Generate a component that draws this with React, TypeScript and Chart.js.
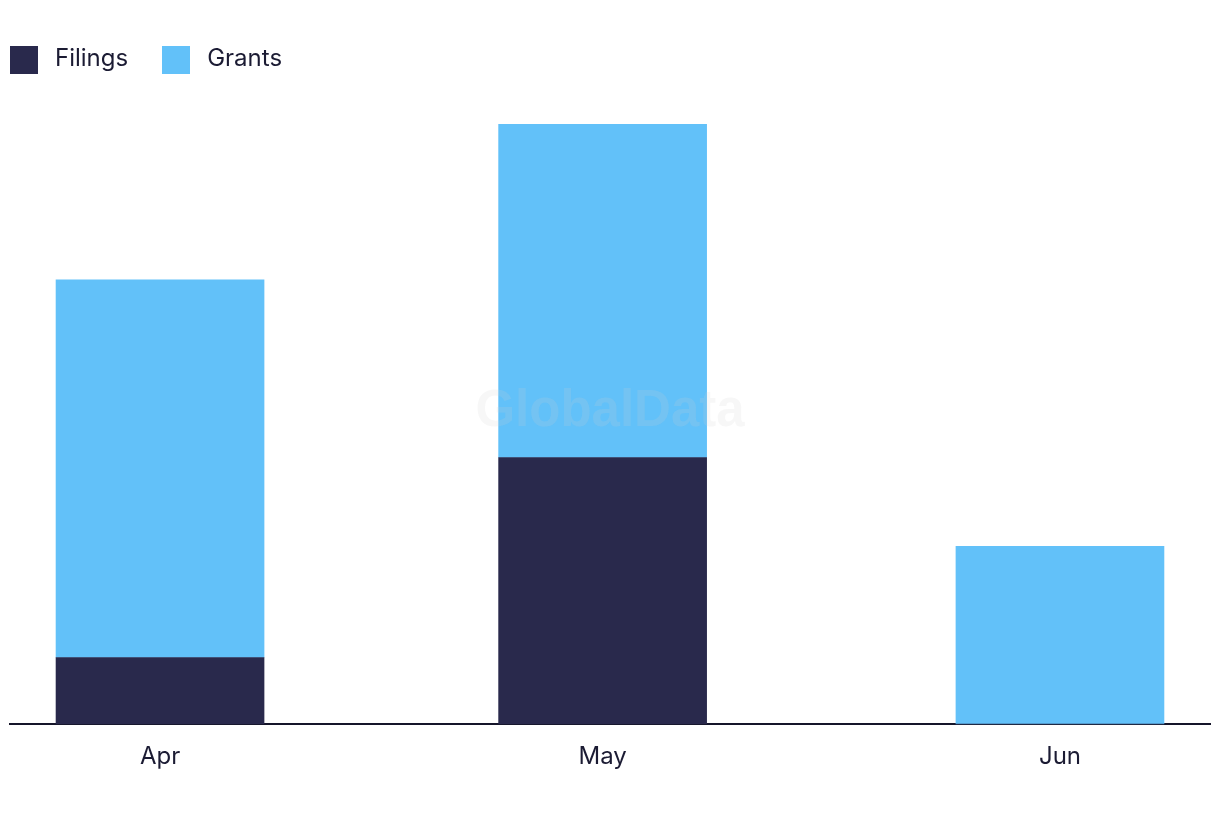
import React, { useEffect, useRef } from "react";
import { Chart, registerables } from "chart.js";

Chart.register(...registerables);

const categories = ["Apr", "May", "Jun"];
const dayOffsets = [0, 30, 61];
const filings = [3, 12, 0];
const grants = [17, 15, 8];
const seriesNames = ["Filings", "Grants"];
const seriesColors = ["#29294c", "#62c1f9"];

const FONT = "Inter, 'Noto Sans', sans-serif";

const watermark = {
  id: "watermark",
  afterDatasetsDraw(chart: any) {
    const { ctx, chartArea } = chart;
    ctx.save();
    ctx.font = "bold 51px 'Liberation Sans', Arial, sans-serif";
    ctx.fillStyle = "rgba(210,210,210,0.17)";
    ctx.textAlign = "center";
    ctx.textBaseline = "middle";
    ctx.fillText("GlobalData", (chartArea.left + chartArea.right) / 2, 412);
    ctx.restore();
  },
};

export default function App() {
  const ref = useRef<HTMLCanvasElement>(null);
  useEffect(() => {
    document.body.style.margin = "0";
    const chart = new Chart(ref.current!, {
      type: "bar",
      data: {
        datasets: [
          {
            label: seriesNames[0],
            data: dayOffsets.map((x, i) => ({ x, y: filings[i] })),
            backgroundColor: seriesColors[0],
            barThickness: 208,
          },
          {
            label: seriesNames[1],
            data: dayOffsets.map((x, i) => ({ x, y: grants[i] })),
            backgroundColor: seriesColors[1],
            barThickness: 208,
          },
        ],
      },
      options: {
        animation: false,
        responsive: false,
        layout: { padding: { left: 10, right: 10, top: 102, bottom: 41 } },
        plugins: {
          legend: { display: false },
          tooltip: { enabled: false },
        },
        scales: {
          x: {
            type: "linear",
            stacked: true,
            offset: false,
            min: -10.17,
            max: 71.17,
            afterBuildTicks(scale: any) {
              scale.ticks = dayOffsets.map((v) => ({ value: v }));
            },
            ticks: {
              autoSkip: false,
              maxRotation: 0,
              padding: 10,
              color: "#1b1b33",
              font: { family: FONT, size: 24 },
              callback: (v: any) => {
                const i = dayOffsets.indexOf(Number(v));
                return i >= 0 ? categories[i] : "";
              },
            },
            grid: { display: false, offset: false },
            border: { display: true, color: "#15152a", width: 2 },
          },
          y: {
            stacked: true,
            display: false,
            min: 0,
            max: 28,
          },
        },
      },
      plugins: [watermark],
    });
    return () => chart.destroy();
  }, []);
  return (
    <div style={{ position: "relative", width: 1220, height: 822 }}>
      <canvas ref={ref} width={1220} height={822} />
      <div
        style={{
          position: "absolute",
          left: 10,
          top: 46,
          display: "flex",
          alignItems: "center",
          fontFamily: FONT,
          fontSize: 24,
          color: "#1b1b33",
          lineHeight: "28px",
        }}
      >
        {seriesNames.map((n, i) => (
          <div key={n} style={{ display: "flex", alignItems: "center", marginRight: 34 }}>
            <span
              style={{
                display: "inline-block",
                width: 28,
                height: 28,
                background: seriesColors[i],
                marginRight: 17,
              }}
            />
            <span style={{ position: "relative", top: -2 }}>{n}</span>
          </div>
        ))}
      </div>
    </div>
  );
}
